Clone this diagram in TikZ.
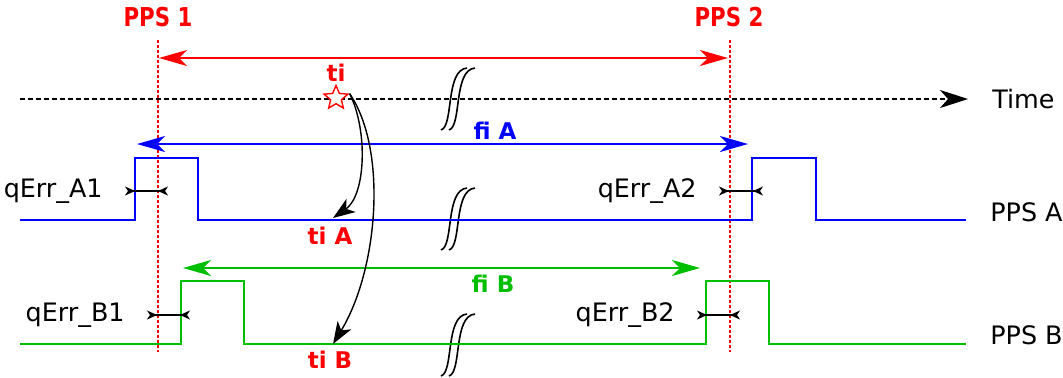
\documentclass[tikz,border=0pt]{standalone}
\usepackage{fontspec}
\setmainfont{DejaVu Sans}
\newfontfamily\ppsfont{DejaVu Sans}[FakeStretch=0.82]
\usetikzlibrary{positioning, arrows.meta, shapes.geometric}
\definecolor{ppsred}{RGB}{255,0,0}
\definecolor{ppsblue}{RGB}{0,0,255}
\definecolor{ppsgreen}{RGB}{0,190,0}

\begin{document}
\begin{tikzpicture}[x=0.5pt,y=-0.5pt,
  lbl/.style={font=\fontsize{12.7}{15}\selectfont,inner sep=0pt},
  tag/.style={font=\fontsize{11.5}{14}\bfseries\selectfont,inner sep=0pt},
  ppstag/.style={font=\ppsfont\fontsize{13}{15}\bfseries\selectfont,inner sep=0pt,ppsred},
  wave/.style={line width=0.8pt},
  span/.style={line width=0.8pt,{Stealth[length=14pt,width=8pt,inset=4pt]}-{Stealth[length=14pt,width=8pt,inset=4pt]}},
  marker/.style={ppsred,line width=0.6pt,dash pattern=on 1.5pt off 1pt},
  gap/.style={line width=0.7pt,{Stealth[reversed,length=5pt,width=4.5pt,inset=1.5pt]}-{Stealth[reversed,length=5pt,width=4.5pt,inset=1.5pt]}},
  brk/.style={line width=0.8pt},
  jump/.style={line width=0.7pt,-{Stealth[length=11pt,width=8pt,inset=3pt]}}]
\useasboundingbox (0,0) rectangle (1063,377);

% second markers
\node[ppstag] (pps1) at (158,17) {PPS 1};
\node[ppstag] (pps2) at (729,17) {PPS 2};
\coordinate (p1top) at (158,40);
\coordinate (p1bot) at (158,352);
\coordinate (p2top) at (730,40);
\coordinate (p2bot) at (730,352);
\draw[marker] (p1top) -- (p1bot);
\draw[marker] (p2top) -- (p2bot);
\coordinate (pp0) at (159,58);
\coordinate (pp1) at (728,58);
\draw[span,ppsred] (pp0) -- (pp1);

% time axis
\coordinate (t0) at (20,99);
\coordinate (t1) at (968,99);
\draw[line width=0.6pt,dash pattern=on 2.5pt off 1.5pt,-{Stealth[length=14pt,width=9pt,inset=4pt]}] (t0) -- (t1);
\node[lbl,right=12pt of t1] (time) {Time};

% breaks
\foreach \y in {99,219,345}
  \foreach \dx in {0,8}
    \draw[brk,shift={(\dx,\y)}] (441,31) .. controls (454,27) and (445,-29) .. (467,-31);

% intervals
\coordinate (fa0) at (137,144);
\coordinate (fa1) at (748,144);
\draw[span,ppsblue] (fa0) -- (fa1);
\node[tag,ppsblue] (fiA) at (495,131) {fi A};
\coordinate (fb0) at (183,268);
\coordinate (fb1) at (700,268);
\draw[span,ppsgreen] (fb0) -- (fb1);
\node[tag,ppsgreen] (fiB) at (493,284) {fi B};

% pulses
\draw[wave,ppsblue] (20,220) -| (135,158) -| (198,220) -| (752,158) -| (816,220) -- (966,220);
\draw[wave,ppsgreen] (20,344) -| (181,281) -| (244,344) -| (706,281) -| (769,344) -- (966,344);
\node[lbl,anchor=west] (ppsA) at (990,212) {PPS A};
\node[lbl,anchor=west] (ppsB) at (990,335) {PPS B};

% quantisation errors
\foreach \n/\xa/\xb/\yy in {a1/125/168/191, a2/719/763/191, b1/147/190/315, b2/697/740/315}{
  \coordinate (\n-l) at (\xa,\yy);
  \coordinate (\n-r) at (\xb,\yy);
  \draw[gap] (\n-l) -- (\n-r);
}
\node[lbl,left=11pt of a1-l] (qa1) {qErr\_A1};
\node[lbl,left=11pt of a2-l] (qa2) {qErr\_A2};
\node[lbl,left=11pt of b1-l] (qb1) {qErr\_B1};
\node[lbl,left=11pt of b2-l] (qb2) {qErr\_B2};

% event
\node[star,star points=5,star point ratio=2.2,draw=ppsred,fill=white,line width=0.7pt,minimum size=12.5pt,inner sep=0pt] (ti) at (336,98) {};
\node[tag,ppsred,above=1pt of ti] (tilbl) {ti};
\coordinate (hitA) at (333,218);
\coordinate (hitB) at (333,344);
\node[tag,ppsred] (tiA) at (330,236) {ti A};
\node[tag,ppsred] (tiB) at (330,360) {ti B};
\draw[jump] (ti.outer point 5) .. controls (368,130) and (366,195) .. (hitA);
\draw[jump] (ti.outer point 5) .. controls (388,150) and (378,270) .. (hitB);
\end{tikzpicture}
\end{document}
